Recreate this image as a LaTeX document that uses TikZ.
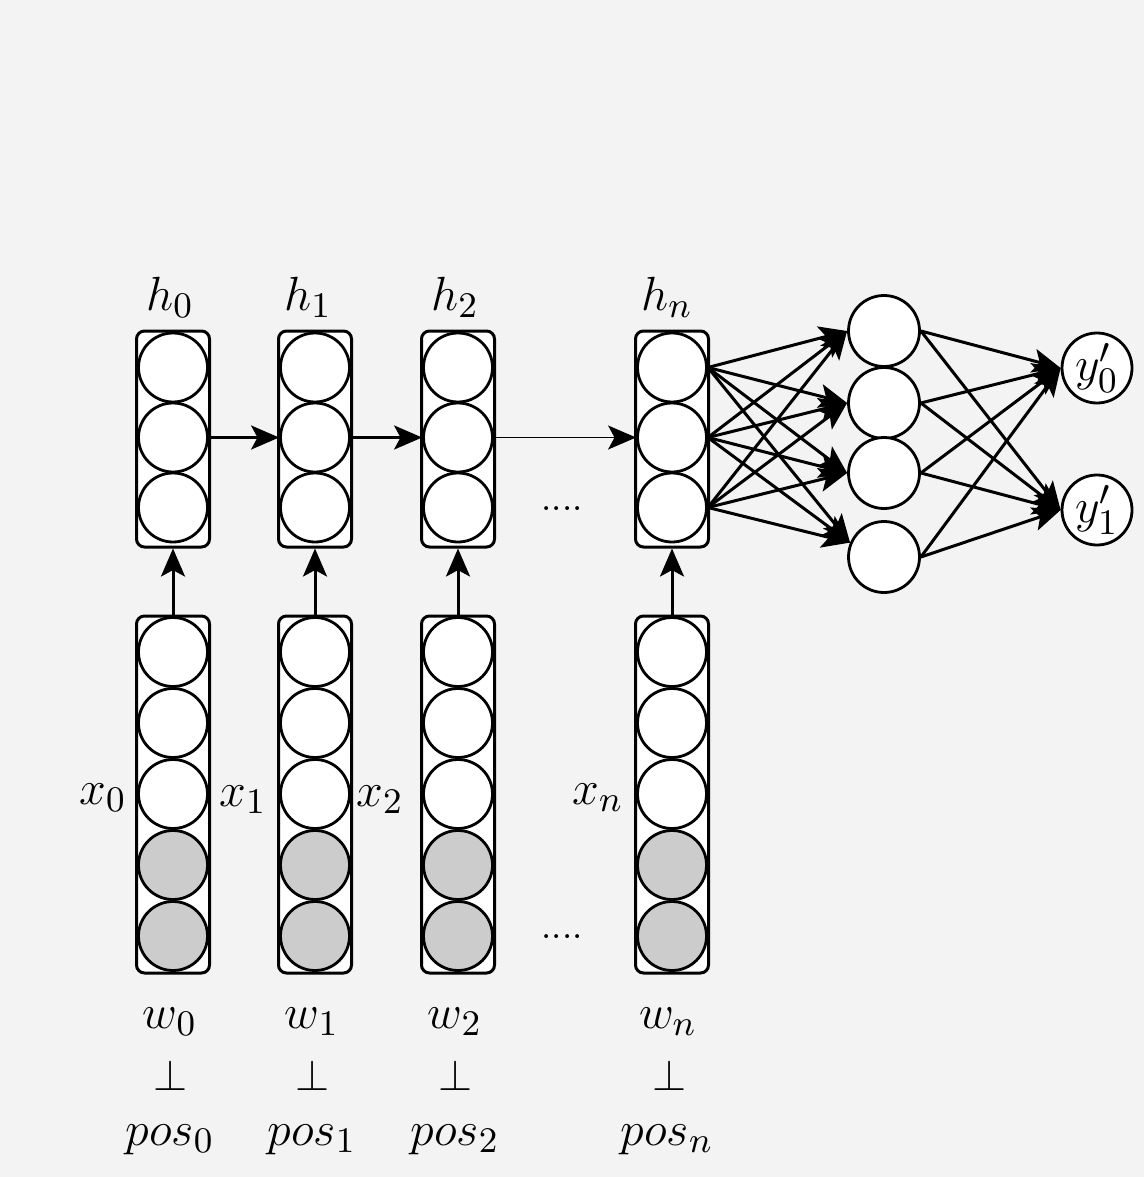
\documentclass[tikz,border=0pt]{standalone}
\usetikzlibrary{arrows.meta}
\definecolor{bg}{RGB}{243,243,243}
\definecolor{shade}{RGB}{204,204,204}
\begin{document}
\begin{tikzpicture}[x=0.25pt,y=-0.25pt,
 font=\fontsize{12.8}{15}\selectfont,
 box/.style={draw,line width=0.75pt,rounded corners=2pt,fill=white,minimum width=18.25pt,inner sep=0pt},
 unit/.style={draw,circle,line width=0.7pt,fill=white,minimum size=17.25pt,inner sep=0pt},
 gunit/.style={unit,fill=shade},
 big/.style={draw,circle,line width=0.7pt,fill=white,minimum size=17.75pt,inner sep=0pt},
 arr/.style={line width=0.75pt,-{Stealth[length=7pt,width=6pt,inset=1.6pt]}},
 dots/.style={font=\fontsize{9}{10}\selectfont},
 ]
\fill[bg] (0,0) rectangle (1144,1177);
\useasboundingbox (0,0) rectangle (1144,1177);

\foreach \c/\xx in {0/173,1/315,2/458,n/672}{
 \node[box,minimum height=54pt] (hb\c) at (\xx,439) {};
 \foreach \i/\yy in {1/367.5,2/437.5,3/507.5} \node[unit] (h\c\i) at (\xx,\yy) {};
 \node[box,minimum height=89.25pt] (xb\c) at (\xx,794.5) {};
 \foreach \i/\yy in {1/652,2/723,3/794} \node[unit] (x\c\i) at (\xx,\yy) {};
 \foreach \i/\yy in {4/865,5/936} \node[gunit] (x\c\i) at (\xx,\yy) {};
 \draw[arr] (xb\c.north) -- (hb\c.south);
}

% recurrent arrows
\draw[arr] (h02.east) -- (h12.west);
\draw[arr] (h12.east) -- (h22.west);
\draw[arr,line width=0.45pt] (h22.east) -- (hn2.west);

% hidden layer
\foreach \i/\yy in {1/331,2/403,3/473,4/557} \node[big] (m\i) at (884,\yy) {};
\node[big,minimum size=17.5pt] (o0) at (1097,368) {$y'_0$};
\node[big,minimum size=17.5pt] (o1) at (1097,510) {$y'_1$};

\foreach \i in {1,2,3} {
 \foreach \j in {1,2,3} \draw[arr] (hn\i.east) -- (m\j.west);
 \draw[arr] (hn\i.east) -- (m4.157);
}
\foreach \j in {1,2,3,4} \foreach \k in {0,1} \draw[arr] (m\j.east) -- (o\k.west);

% dots
\node[dots] (d1) at (562,509) {....};
\node[dots] (d2) at (562,937) {....};

% labels
\node (lh0) at (170,297) {$h_0$};
\node (lh1) at (308,297) {$h_1$};
\node (lh2) at (455,297) {$h_2$};
\node (lhn) at (667,297) {$h_n$};

\node (lx0) at (103,798) {$x_0$};
\node (lx1) at (243,800) {$x_1$};
\node (lx2) at (380,800) {$x_2$};
\node (lxn) at (598,798) {$x_n$};

\node (lw0) at (170,1022) {$w_0$};
\node (lw1) at (312,1022) {$w_1$};
\node (lw2) at (455,1022) {$w_2$};
\node (lwn) at (668,1022) {$w_n$};

\foreach \xx/\c in {171/0,313/1,456/2,670/n}
 \node[font=\fontsize{10.5}{12}\selectfont] (perp\c) at (\xx,1075) {$\perp$};

\node (lp0) at (170,1140) {$pos_0$};
\node (lp1) at (312,1140) {$pos_1$};
\node (lp2) at (455,1140) {$pos_2$};
\node (lpn) at (667,1140) {$pos_n$};
\end{tikzpicture}
\end{document}
